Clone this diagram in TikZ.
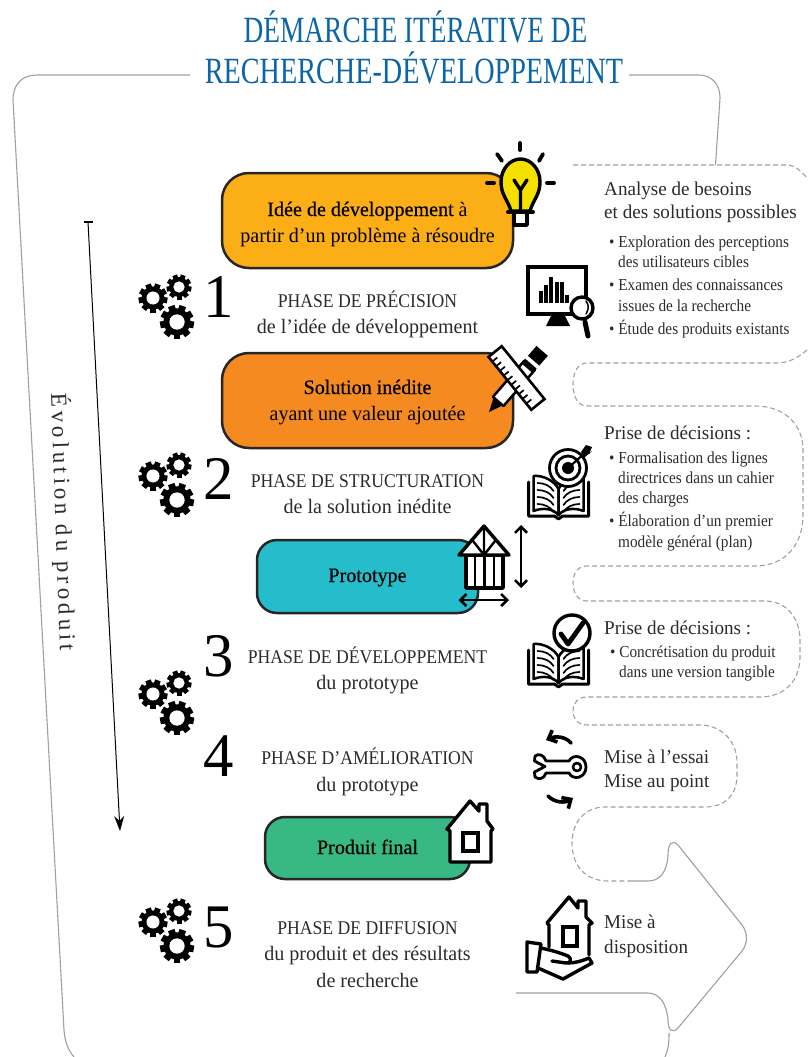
\documentclass[tikz,border=0pt]{standalone}
\usepackage{fontspec}
\usetikzlibrary{arrows.meta}
\setmainfont{Liberation Serif}[FakeStretch=0.98]
\newfontfamily\titlefont{Liberation Serif}[FakeStretch=0.74]
\newfontfamily\titlewide{Liberation Serif}[FakeStretch=0.762]
\newfontfamily\itemfont{Liberation Serif}[FakeStretch=0.91]
\newfontfamily\medfont{Liberation Serif}[FakeStretch=0.98,FakeBold=0.5]
\newfontfamily\evolfont{Liberation Serif}[LetterSpace=17]
\definecolor{titleblue}{HTML}{0B65A6}
\definecolor{outlinegrey}{HTML}{A3A096}
\definecolor{bulbyellow}{HTML}{F5E000}
\definecolor{ideafill}{HTML}{FCAE17}
\definecolor{solutionfill}{HTML}{F58A20}
\definecolor{prototypefill}{HTML}{25BCCC}
\definecolor{finalfill}{HTML}{38B883}
\definecolor{bodytext}{HTML}{2B2B2B}
\tikzset{
  titletext/.style={anchor=base, inner sep=0pt, text=titleblue, font=\titlefont\fontsize{37}{37}\selectfont},
  titlewidetext/.style={anchor=base, inner sep=0pt, text=titleblue, font=\titlewide\fontsize{37}{37}\selectfont},
  phasetext/.style={anchor=base, inner sep=0pt, text=bodytext, font=\itemfont\fontsize{19.4}{19.4}\selectfont},
  subtext/.style={anchor=base, inner sep=0pt, text=bodytext, font=\fontsize{20.5}{20.5}\selectfont},
  boxtext/.style={anchor=base, inner sep=0pt, font=\fontsize{20.5}{20.5}\selectfont},
  boxhead/.style={anchor=base, inner sep=0pt, font=\medfont\fontsize{20.5}{20.5}\selectfont},
  digittext/.style={anchor=base, inner sep=0pt, font=\fontsize{62}{62}\selectfont},
  sidehead/.style={anchor=base west, inner sep=0pt, text=bodytext, font=\fontsize{19.5}{19.5}\selectfont},
  sideitem/.style={anchor=base west, inner sep=0pt, text=bodytext, font=\itemfont\fontsize{16.8}{16.8}\selectfont},
  outlineline/.style={draw=outlinegrey, line width=1.1pt},
  dashline/.style={draw=outlinegrey, line width=1.1pt, dash pattern=on 5pt off 3pt},
  phasebox/.style={draw=black!85, line width=2.5pt},
  iconline/.style={draw=black, line width=3.4pt, line join=round, line cap=round},
  thinicon/.style={draw=black, line width=2pt, line join=round, line cap=round},
}
% one gear: centre x, centre y, outer radius
\newcommand{\gearwheel}[3]{
  \begin{scope}[shift={(#1,#2)}]
    \foreach \a in {0,40,...,320}
      \fill[rotate=\a] (-0.2*#3,0.6*#3) rectangle (0.2*#3,#3);
    \fill (0,0) circle ({0.8*#3});
    \fill[white] (0,0) circle ({0.45*#3});
  \end{scope}
}
\newcommand{\gearcluster}[2]{
  \begin{scope}[shift={(#1,#2)}]
    \gearwheel{-12}{-9}{14.5}
    \gearwheel{14}{-20}{12.5}
    \gearwheel{12}{15}{17}
  \end{scope}
}
% open book, origin at the bottom of the spine
\newcommand{\openbook}[2]{
  \begin{scope}[shift={(#1,#2)}]
    \draw[thinicon, line width=3pt, fill=white] (-30,-37) -- (-30,-3) -- (-4,-3) -- (0,0) -- (4,-3) -- (30,-3) -- (30,-37);
    \draw[thinicon, line width=2.5pt, fill=white] (-25,-43) .. controls (-15,-44) and (-4,-38) .. (0,-30) -- (0,-4) .. controls (-5,-10) and (-15,-12) .. (-25,-8) -- cycle;
    \draw[thinicon, line width=2.5pt, fill=white] (25,-43) .. controls (15,-44) and (4,-38) .. (0,-30) -- (0,-4) .. controls (5,-10) and (15,-12) .. (25,-8) -- cycle;
    \foreach \dy in {0,7,14,21} {
      \draw[thinicon, line width=1.7pt] (-21,-36+\dy) .. controls (-14,-36+\dy) and (-8,-33+\dy) .. (-5,-28+\dy);
      \draw[thinicon, line width=1.7pt] (21,-36+\dy) .. controls (14,-36+\dy) and (8,-33+\dy) .. (5,-28+\dy);
    }
  \end{scope}
}
% small house: apex x and y
\newcommand{\houseicon}[3]{
  \begin{scope}[shift={(#1,#2)}]
    \draw[iconline, fill=#3] (-20,30) -- (-20,61) -- (21,61) -- (21,30) -- (23,28) -- (17,20) -- (17,3) -- (9,3) -- (9,10) -- (0,0) -- (-23,28) -- cycle;
    \draw[iconline, fill=white, line cap=butt, line join=miter] (-7,32) rectangle (8,50);
  \end{scope}
}
\begin{document}
\begin{tikzpicture}[x=1pt,y=-1pt]
  \useasboundingbox (0,0) rectangle (807,1057);

  % title
  \node[titletext] (titleone) at (415.5,43) {DÉMARCHE ITÉRATIVE DE};
  \node[titlewidetext] (titletwo) at (414,83) {RECHERCHE-DÉVELOPPEMENT};

  % frame round the whole process
  \draw[outlineline] (190,75) -- (37,75) .. controls (22,75) and (13,84) .. (13,100) -- (64,1030) .. controls (65,1042) and (68,1050) .. (74,1057);
  \draw[outlineline] (629,75) -- (698,75) .. controls (712,75) and (720,84) .. (720,98) -- (715.5,165);
  \draw[dashline] (573,165) -- (787,165) .. controls (795,165) and (802,172) .. (807,178);
  \draw[dashline] (807,350) .. controls (798,358) and (788,363) .. (777,363) -- (587,363) .. controls (578,363) and (573,372) .. (573,384) .. controls (573,397) and (578,406) .. (587,406) -- (755,406) .. controls (785,406) and (803,425) .. (803,450) -- (803,515) .. controls (803,545) and (785,566) .. (755,566) -- (587,566) .. controls (578,566) and (573,573) .. (573,583) .. controls (573,593) and (578,601) .. (587,601) -- (765,601) .. controls (788,601) and (800,620) .. (800,640) -- (800,657) .. controls (800,680) and (785,697) .. (760,697) -- (587,697) .. controls (578,697) and (573,703) .. (573,711) .. controls (573,719) and (578,725) .. (587,725) -- (700,725) .. controls (722,725) and (737,742) .. (737,762) -- (737,775) .. controls (737,795) and (725,807) .. (705,807) -- (605,807) .. controls (585,807) and (572,822) .. (572,843) .. controls (572,865) and (585,881) .. (608,881) -- (630,881);
  \draw[outlineline] (630,881) -- (648,881) .. controls (660,881) and (667,872) .. (668,855) .. controls (668,844) and (672,839) .. (678,845) -- (742,925) .. controls (748,933) and (748,943) .. (742,951) -- (678,1028) .. controls (672,1034) and (668,1030) .. (668,1020) .. controls (667,1005) and (660,993) .. (648,993) -- (516,993);
  \draw[outlineline] (669,1033) .. controls (669,1045) and (668,1050) .. (665,1057);

  % evolution arrow
  \coordinate (evolstart) at (88,222);
  \coordinate (evolend) at (120,831);
  \draw[line width=1pt, -{Stealth[length=15pt,width=10pt]}] (evolstart) -- (evolend);
  \draw[line width=1.2pt] (83.5,222) -- (92.5,222);
  \node[rotate=-88, inner sep=0pt, text=bodytext, font=\evolfont\fontsize{23}{23}\selectfont] (evollabel) at (63,522) {Évolution du produit};

  % boxes
  \draw[phasebox, fill=ideafill, rounded corners=27pt] (222,173) rectangle (513,268);
  \draw[phasebox, fill=solutionfill, rounded corners=27pt] (222,353) rectangle (513,448);
  \draw[phasebox, fill=prototypefill, rounded corners=20pt] (257,540) rectangle (478,613);
  \draw[phasebox, fill=finalfill, rounded corners=20pt] (265,817) rectangle (470,879);

  \node[boxhead] (ideaone) at (367.5,216) {Idée de développement {\normalfont à}};
  \node[boxtext] (ideatwo) at (367.5,242) {partir d’un problème à résoudre};
  \node[boxhead] (solutionone) at (367.5,394) {Solution inédite};
  \node[boxtext] (solutiontwo) at (367.5,420) {ayant une valeur ajoutée};
  \node[boxhead] (prototypelabel) at (367.5,582) {Prototype};
  \node[boxhead] (finallabel) at (367.5,854) {Produit final};

  % phases
  \node[digittext] (digitone) at (219,317) {1};
  \node[digittext] (digittwo) at (219,499) {2};
  \node[digittext] (digitthree) at (219,676) {3};
  \node[digittext] (digitfour) at (219,776) {4};
  \node[digittext] (digitfive) at (219,947) {5};
  \gearcluster{165}{307}
  \gearcluster{165}{485}
  \gearcluster{165}{703}
  \gearcluster{165}{931}

  \node[phasetext] (phaseone) at (367.5,307) {PHASE DE PRÉCISION};
  \node[subtext] (phaseonesub) at (367.5,333) {de l’idée de développement};
  \node[phasetext] (phasetwo) at (367.5,487) {PHASE DE STRUCTURATION};
  \node[subtext] (phasetwosub) at (367.5,513) {de la solution inédite};
  \node[phasetext] (phasethree) at (367.5,663) {PHASE DE DÉVELOPPEMENT};
  \node[subtext] (phasethreesub) at (367.5,689) {du prototype};
  \node[phasetext] (phasefour) at (367.5,764) {PHASE D’AMÉLIORATION};
  \node[subtext] (phasefoursub) at (367.5,791) {du prototype};
  \node[phasetext] (phasefive) at (367.5,934) {PHASE DE DIFFUSION};
  \node[subtext] (phasefivesub) at (367.5,960) {du produit et des résultats};
  \node[subtext] (phasefivesubb) at (367.5,987) {de recherche};

  % side notes
  \node[sidehead] (needsone) at (604,195) {Analyse de besoins};
  \node[sidehead] (needstwo) at (604,218) {et des solutions possibles};
  \node[sideitem] (needsa) at (609,247) {\textbullet\ Exploration des perceptions};
  \node[sideitem] (needsb) at (618,267) {des utilisateurs cibles};
  \node[sideitem] (needsc) at (609,290) {\textbullet\ Examen des connaissances};
  \node[sideitem] (needsd) at (618,311) {issues de la recherche};
  \node[sideitem] (needse) at (609,334) {\textbullet\ Étude des produits existants};

  \node[sidehead] (decisionone) at (604,439) {Prise de décisions :};
  \node[sideitem] (decisiona) at (609,463) {\textbullet\ Formalisation des lignes};
  \node[sideitem] (decisionb) at (618,483) {directrices dans un cahier};
  \node[sideitem] (decisionc) at (618,503) {des charges};
  \node[sideitem] (decisiond) at (609,526) {\textbullet\ Élaboration d’un premier};
  \node[sideitem] (decisione) at (618,547) {modèle général (plan)};

  \node[sidehead] (decisiontwo) at (604,634) {Prise de décisions :};
  \node[sideitem] (decisionf) at (610,657) {\textbullet\ Concrétisation du produit};
  \node[sideitem] (decisiong) at (619,677) {dans une version tangible};

  \node[sidehead] (trialone) at (604,763) {Mise à l’essai};
  \node[sidehead] (trialtwo) at (604,787) {Mise au point};
  \node[sidehead] (availone) at (604,928) {Mise à};
  \node[sidehead] (availtwo) at (604,953) {disposition};

  % light bulb
  \foreach \xa/\ya/\xb/\yb in {520/143/520/150, 497/154/502/161, 543/154/539/161, 487/183/494/183, 547/183/554/183}
    \draw[iconline, line width=3.8pt] (\xa,\ya) -- (\xb,\yb);
  \draw[iconline, fill=bulbyellow] (511,211) .. controls (508,200) and (501,195) .. (501,182) .. controls (501,169) and (510,159) .. (520.5,159) .. controls (531,159) and (540,169) .. (540,182) .. controls (540,195) and (533,200) .. (530,211) -- cycle;
  \draw[iconline, fill=white] (514,212) -- (514,225) -- (527,225) -- (527,212);
  \draw[iconline, line width=4pt] (508,212) -- (533,212);
  \draw[iconline] (520.5,211) -- (520.5,190) -- (514,180) (520.5,190) -- (527,180);

  % monitor with magnifier
  \draw[iconline, line width=3.8pt, fill=white, line join=miter] (528,267) rectangle (586,314);
  \fill (546,326) -- (551,316) -- (565,316) -- (570,326) -- cycle;
  \foreach \xa/\ya in {541/291, 546/285, 551/277, 557/282, 562/282, 567/295}
    \draw[iconline, line width=3.4pt, line cap=butt] (\xa,\ya) -- (\xa,303);
  \draw[iconline, fill=white] (582,308) circle (11);
  \draw[iconline, line width=1.5pt] (586,301) .. controls (589,305) and (589,309) .. (586,314);
  \draw[iconline, line width=5pt] (585,322) -- (588,336);

  % pencil and ruler
  \begin{scope}[shift={(489,412)}, rotate=49]
    \fill (0,0) -- (14,-6) -- (14,6) -- cycle;
    \draw[iconline, fill=white, line width=2.5pt] (14,-7) -- (14,7) -- (62,7) -- (62,-7) -- cycle;
    \fill (58,-7.5) rectangle (64,7.5);
    \fill (68,-7.5) rectangle (81,7.5);
  \end{scope}
  \begin{scope}[shift={(516.5,378)}, rotate=-51]
    \draw[iconline, fill=white, line width=2.6pt, line join=miter] (-34,-8.5) rectangle (34,8.5);
    \foreach \tx in {-28,-22,...,30}
      \draw[line width=1.7pt] (\tx,8) -- (\tx,2);
  \end{scope}

  % book with target
  \openbook{558.5}{519}
  \draw[iconline, fill=white, line width=2.8pt] (568,468) circle (18.5);
  \draw[iconline, line width=2.8pt] (568,468) circle (12);
  \fill (568,468) circle (6);
  \draw[iconline, line width=2.2pt, line cap=butt] (568,468) -- (585,453);
  \fill (581,452) -- (586,445) -- (592,447) -- (589,454) -- (592,451) -- (584,458) -- cycle;

  % house on the prototype box
  \draw[iconline, fill=white] (466,555) rectangle (503,588);
  \foreach \tx in {475,484.5,494}
    \draw[iconline, line width=2.4pt] (\tx,555) -- (\tx,588);
  \draw[iconline, fill=white] (484,526) -- (459,555) -- (509,555) -- cycle;
  \draw[iconline, line width=2.4pt] (484,526) -- (484,555) (473,541) -- (484,555) -- (495,541);
  \draw[line width=2.6pt, {Straight Barb[length=6pt,width=12pt]}-{Straight Barb[length=6pt,width=12pt]}] (458.5,600) -- (509,600);
  \draw[line width=2.6pt, {Straight Barb[length=6pt,width=12pt]}-{Straight Barb[length=6pt,width=12pt]}] (521,525) -- (521,588);

  % book with check mark
  \openbook{558.5}{687}
  \draw[iconline, fill=white] (572,633) circle (18);
  \draw[iconline, line width=4.8pt] (561,634) -- (568,644) -- (583,623);

  % wrench with turning arrows
  \draw[thinicon, line width=2.8pt] (569,761) -- (546,761) .. controls (544,755) and (539,753) .. (535,756) -- (534.5,761) -- (545,766.5) -- (534.5,772) -- (535,777) .. controls (539,780) and (544,779) .. (546,773) -- (569,773) .. controls (573,781) and (586,778) .. (586,767) .. controls (586,756) and (573,753) .. (569,761) -- cycle;
  \draw[thinicon, line width=2.6pt] (577,767) circle (4);
  \draw[line width=3.6pt, line cap=round, -{Straight Barb[length=7pt,width=13pt]}] (571,743) .. controls (565,736) and (555,736) .. (546,740);
  \draw[line width=3.6pt, line cap=round, -{Straight Barb[length=7pt,width=13pt]}] (548,796) .. controls (555,803) and (565,803) .. (573,798);

  % house on the final box
  \houseicon{470}{801}{white}

  % house in a hand
  \draw[iconline] (549,947) -- (549,925) -- (547,923) -- (569,897) -- (578,908) -- (578,901) -- (586,901) -- (586,917) -- (592,923) -- (589,925) -- (589,955);
  \draw[iconline, line join=miter] (563,927) rectangle (577,946);
  \draw[iconline] (527,942) -- (541,944) -- (537,972) -- (527,972) -- cycle;
  \draw[iconline] (541,948) .. controls (550,950) and (558,952) .. (568,956) .. controls (572,958) and (571,964) .. (566,963) -- (552,961);
  \draw[iconline] (568,963) .. controls (575,963) and (582,961) .. (589,958) -- (592,963) -- (563,979) -- (538,968);
\end{tikzpicture}
\end{document}
